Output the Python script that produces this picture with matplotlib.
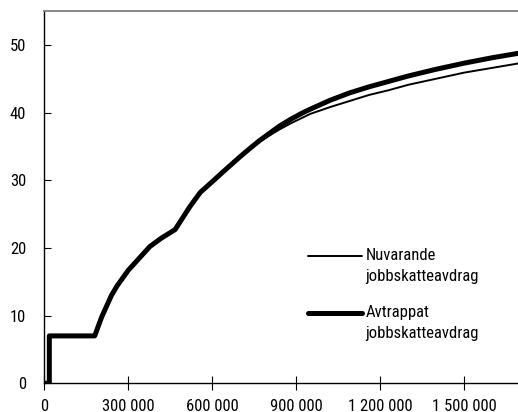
import matplotlib
matplotlib.use("Agg")
import matplotlib.pyplot as plt
from matplotlib.ticker import FuncFormatter
from matplotlib import font_manager

# income (kr) and average tax (%)
income = [0, 18000, 18000, 180000, 205000, 240000, 260000, 300000, 377000,
          420000, 467000, 520000, 557000, 603000, 640000, 670000, 700000,
          740000, 770000, 800000, 840000, 880000, 920000, 950000, 1020000,
          1090000, 1160000, 1230000, 1300000, 1400000, 1500000, 1600000,
          1700000]
avtrappat = [0, 0, 7, 7, 9.8, 13.0, 14.4, 16.7, 20.2,
             21.5, 22.7, 26.1, 28.2, 29.9, 31.3, 32.4, 33.5,
             34.9, 35.9, 36.8, 38.0, 39.0, 39.9, 40.5, 41.8,
             42.9, 43.8, 44.6, 45.4, 46.4, 47.3, 48.1,
             48.8]
nuvarande = [0, 0, 7, 7, 9.8, 13.0, 14.4, 16.7, 20.2,
             21.5, 22.7, 26.1, 28.2, 29.9, 31.3, 32.4, 33.5,
             34.9, 35.7, 36.5, 37.5, 38.4, 39.2, 39.8, 40.8,
             41.7, 42.6, 43.3, 44.1, 45.0, 45.9, 46.6,
             47.3]

xticks = [0, 300000, 600000, 900000, 1200000, 1500000]
yticks = [0, 10, 20, 30, 40, 50]
labels = ["Nuvarande\njobbskatteavdrag", "Avtrappat\njobbskatteavdrag"]

# narrow font if there is one
names = {f.name for f in font_manager.fontManager.ttflist}
stretch = "normal"
font = "DejaVu Sans"
for cand in ["Liberation Sans Narrow", "Roboto Condensed", "Open Sans Condensed"]:
    if cand in names:
        font = cand
        break
else:
    for f in font_manager.fontManager.ttflist:
        if f.name == "DejaVu Sans" and "Condensed" in f.fname and "Bold" not in f.fname \
                and "Oblique" not in f.fname:
            stretch = "condensed"
            break
plt.rcParams["font.family"] = [font, "DejaVu Sans"]
plt.rcParams["font.stretch"] = stretch
fs = 12

fig = plt.figure(figsize=(5.18, 4.12), dpi=100)
ax = fig.add_axes([0.0855, 0.0697, 0.919, 0.9036])

ax.plot(income, nuvarande, color="black", lw=1.4, solid_joinstyle="round")
ax.plot(income, avtrappat, color="black", lw=3.6, solid_joinstyle="round",
        solid_capstyle="round")

ax.set_xlim(0, 1700000)
ax.set_ylim(0, 55)
ax.set_xticks(xticks)
ax.set_yticks(yticks)
ax.xaxis.set_major_formatter(FuncFormatter(lambda v, p: f"{int(v):,}".replace(",", " ")))

ax.spines["right"].set_visible(False)
ax.spines["top"].set_color("#808080")
ax.spines["top"].set_linewidth(1.3)
ax.spines["left"].set_linewidth(1.0)
ax.spines["bottom"].set_linewidth(1.0)
ax.tick_params(axis="y", direction="in", length=5, pad=13, labelsize=fs)
ax.tick_params(axis="x", direction="inout", length=10, pad=6, labelsize=fs)

# legend drawn by hand so the line sits at the first text row
for i, (lab, lw) in enumerate(zip(labels, [1.4, 3.6])):
    yl = 0.341 - i * 0.153
    ax.plot([0.555, 0.667], [yl, yl], color="black", lw=lw,
            solid_capstyle="round", transform=ax.transAxes, clip_on=False)
    ax.text(0.675, yl + 0.0215, lab, transform=ax.transAxes, va="top",
            ha="left", fontsize=fs, linespacing=1.45)

fig.savefig("out.png", dpi=100)
